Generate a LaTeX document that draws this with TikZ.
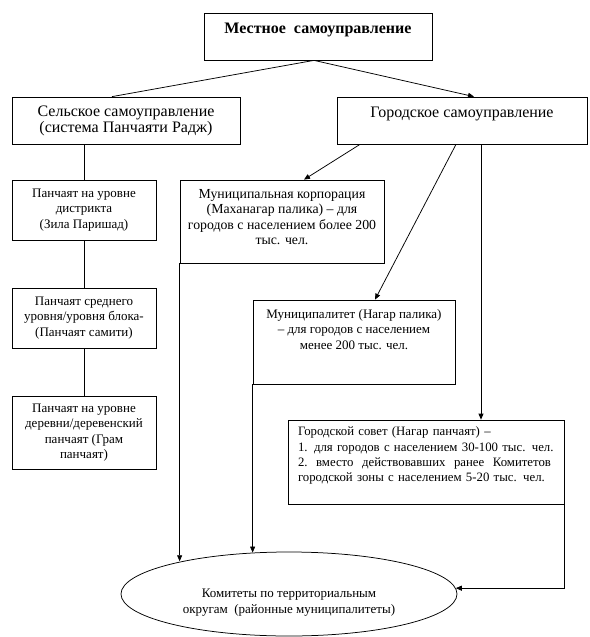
\documentclass[tikz,border=0pt]{standalone}
\usepackage{fontspec}
\setmainfont{Liberation Serif}
\usetikzlibrary{
  arrows.meta,
  shapes.geometric
}

\begin{document}
\begin{tikzpicture}[
  x=1pt, y=-1pt,
  >={Triangle[length=6pt,width=5pt]},
  every path/.style={line width=0.75pt},
  box/.style={draw, align=center, inner sep=0pt,
    font=\fontsize{13}{15.5}\selectfont},
  bigbox/.style={box, minimum height=47pt,
    font=\fontsize{16}{16}\selectfont},
]
\useasboundingbox (0,0) rectangle (589,637);
% top level
\node[bigbox, minimum width=228pt,
  font=\bfseries\fontsize{16}{16}\selectfont] (local) at (318,36.5)
  {Местное\ \ самоуправление\\ \mbox{}};
% second level
\node[bigbox, minimum width=228pt] (rural) at (126,120.5)
  {Сельское самоуправление\\(система Панчаяти Радж)};
\node[bigbox, minimum width=250pt] (urban) at (462,120.5)
  {Городское самоуправление\\ \mbox{}};
% rural branch
\node[box, minimum width=144pt, minimum height=60pt] (district) at (84,210)
  {Панчаят на уровне\\дистрикта\\(Зила Паришад)};
\node[box, minimum width=144pt, minimum height=60pt] (middle) at (84,318)
  {Панчаят среднего\\уровня/уровня блока-\\(Панчаят самити)};
\node[box, minimum width=144pt, minimum height=73pt] (village) at (84,432.5)
  {Панчаят на уровне\\деревни/деревенский\\панчаят (Грам\\панчаят)};
% urban branch
\node[box, minimum width=204pt, minimum height=83pt, text depth=9pt,
  font=\fontsize{13.8}{15.6}\selectfont] (corp) at (282,221.5)
  {Муниципальная корпорация\\(Маханагар палика) – для\\городов с населением более 200\\тыс. чел.};
\node[box, minimum width=202pt, minimum height=84pt, text depth=26pt] (munic) at (354,342)
  {Муниципалитет (Нагар палика)\\– для городов с населением\\менее 200 тыс. чел.};
\node[box, minimum width=276pt, minimum height=84pt, text width=256pt, align=left,
  font=\fontsize{12.8}{15.3}\selectfont] (council) at (426,462)
  {Городской совет (Нагар панчаят) –\\
   1. для городов с населением 30-100 тыс. чел.\\
   \leavevmode\hbox to 253pt{2.\hfil\ вместо\hfil\ действовавших\hfil\ ранее\hfil\ Комитетов}\\
   городской зоны с населением 5-20 тыс. чел.\\ \mbox{}};
% wards
\node[box, ellipse, minimum width=336pt, minimum height=84pt, text height=41pt] (wards) at (289,594)
  {Комитеты по территориальным\\округам\ \ (районные муниципалитеты)};
% connectors
\draw ([xshift=-4pt]local.south) -- ([xshift=-14pt]rural.north);
\draw[->] ([xshift=-4pt]local.south) -- ([xshift=12pt]urban.north);
\draw (rural.south -| district.north) -- (district.north);
\draw (district.south) -- (middle.north);
\draw (middle.south) -- (village.north);
\draw[->] ([xshift=-102pt]urban.south) -- ([xshift=22pt]corp.north);
\draw[->] ([xshift=-6pt]urban.south) -- ([xshift=21pt]munic.north);
\draw[->] ([xshift=19pt]urban.south) -- ([xshift=19pt]urban.south |- council.north);
\draw[->] (corp.south west) -- (corp.south west |- wards.163.6);
\draw[->] (munic.south west) -- (munic.south west |- wards.131.3);
\draw[->] (council.south east) |- (wards.2);
\end{tikzpicture}
\end{document}
